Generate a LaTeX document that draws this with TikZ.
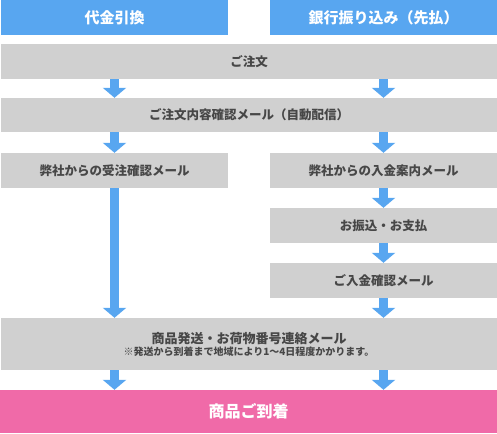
\documentclass[tikz,border=0pt]{standalone}
\usepackage{fontspec}
\setmainfont{Noto Sans CJK JP}
\usetikzlibrary{arrows.meta}
\definecolor{flowblue}{HTML}{58A6F0}
\definecolor{boxgray}{HTML}{D0D0D0}
\definecolor{arrivepink}{HTML}{F06AA8}
\definecolor{textgray}{HTML}{474747}
\tikzset{
  head/.style={fill=flowblue, text=white, font=\fontsize{15}{18}\selectfont\bfseries, minimum width=227pt, minimum height=35pt, inner sep=0pt},
  stepbox/.style={fill=boxgray, text=textgray, font=\fontsize{12.5}{15}\selectfont\bfseries, minimum height=35pt, inner sep=0pt},
  halfbox/.style={stepbox, minimum width=227pt},
  fullbox/.style={stepbox, minimum width=496pt},
  flow/.style={draw=flowblue, line width=9.5pt, -{Triangle[width=23pt,length=10pt]}}
}
\begin{document}
\begin{tikzpicture}[x=1pt,y=-1pt]
  \useasboundingbox (0,0) rectangle (497,433);

  % payment methods
  \node[head] (cod) at (114.5,17.5) {代金引換};
  \node[head] (bank) at (383.5,17.5) {銀行振り込み（先払）};

  % steps
  \node[fullbox] (order) at (249,61.5) {ご注文};
  \node[fullbox, minimum height=34pt] (confirm) at (249,115) {ご注文内容確認メール（自動配信）};
  \node[halfbox] (recvL) at (114.5,170.5) {弊社からの受注確認メール};
  \node[halfbox] (recvR) at (383.5,170.5) {弊社からの入金案内メール};
  \node[halfbox] (pay) at (383.5,225.5) {お振込・お支払};
  \node[halfbox] (paid) at (383.5,280.5) {ご入金確認メール};
  \node[fullbox, minimum height=52pt, align=center, font=\fontsize{13}{15}\selectfont\bfseries] (ship) at (249,344)
    {商品発送・お荷物番号連絡メール\\[-3pt]{\fontsize{10}{11}\selectfont ※発送から到着まで地域により1〜4日程度かかります。}};
  \node[fill=arrivepink, text=white, font=\fontsize{16}{19}\selectfont\bfseries, minimum width=497pt, minimum height=43pt, inner sep=0pt] (arrive) at (248.5,411.5) {商品ご到着};

  % arrows
  \draw[flow] (order.south -| cod) -- (confirm.north -| cod);
  \draw[flow] (order.south -| bank) -- (confirm.north -| bank);
  \draw[flow] (confirm.south -| cod) -- (recvL.north);
  \draw[flow] (confirm.south -| bank) -- (recvR.north);
  \draw[flow] (recvL.south) -- (ship.north -| cod);
  \draw[flow] (recvR.south) -- (pay.north);
  \draw[flow] (pay.south) -- (paid.north);
  \draw[flow] (paid.south) -- (ship.north -| bank);
  \draw[flow] (ship.south -| cod) -- (arrive.north -| cod);
  \draw[flow] (ship.south -| bank) -- (arrive.north -| bank);
\end{tikzpicture}
\end{document}
